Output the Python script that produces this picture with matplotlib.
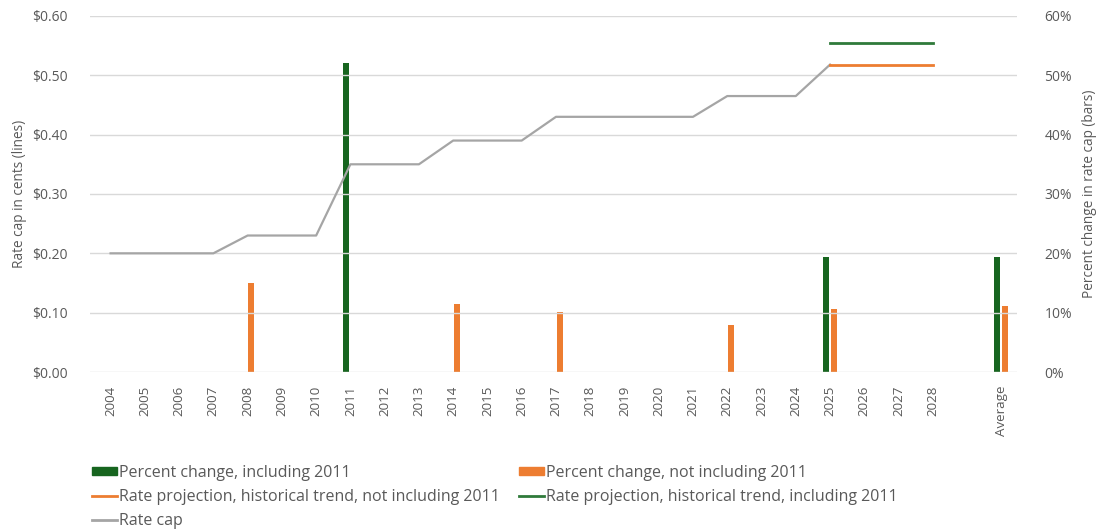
import numpy as np
import matplotlib
matplotlib.use("Agg")
import matplotlib.pyplot as plt
from matplotlib.patches import Patch
from matplotlib.lines import Line2D

plt.rcParams['font.family'] = ['Open Sans', 'DejaVu Sans']

# categories: 2004-2028, a blank slot, then the average
categories = [str(y) for y in range(2004, 2029)] + ['', 'Average']

# rate cap in dollars, 2004-2025
rate_cap = [0.20, 0.20, 0.20, 0.20, 0.23, 0.23, 0.23, 0.35, 0.35, 0.35,
            0.39, 0.39, 0.39, 0.43, 0.43, 0.43, 0.43, 0.43, 0.465, 0.465,
            0.465, 0.518]

# projections 2025-2028
proj_years = ['2025', '2026', '2027', '2028']
proj_incl_2011 = [0.555, 0.555, 0.555, 0.555]
proj_excl_2011 = [0.518, 0.518, 0.518, 0.518]

# percent change bars
pct_incl_2011 = {'2011': 52.0, '2025': 19.4, 'Average': 19.4}
pct_excl_2011 = {'2008': 15.0, '2014': 11.5, '2017': 10.1, '2022': 7.9,
                 '2025': 10.6, 'Average': 11.1}

GREEN = '#17651f'
GREEN_LINE = '#2f7a3a'
ORANGE = '#ed7d31'
GRAY = '#a5a5a5'
TXT = '#595959'

x = np.arange(len(categories))
idx = {c: i for i, c in enumerate(categories)}

fig = plt.figure(figsize=(10.98, 5.31), dpi=100)
ax = fig.add_axes([0.082, 0.2994, 0.844, 0.6706])
ax2 = ax.twinx()

# bars on the right axis
w = 0.17
gx = [idx[k] - 0.12 for k in pct_incl_2011]
ox = [idx[k] + 0.11 for k in pct_excl_2011]
ax2.bar(gx, list(pct_incl_2011.values()), width=w, color=GREEN, zorder=2)
ax2.bar(ox, list(pct_excl_2011.values()), width=w, color=ORANGE, zorder=2)
ax2.set_ylim(0, 60)
ax2.set_yticks(np.arange(0, 61, 10))
ax2.set_yticklabels([f'{v}%' for v in range(0, 61, 10)])

# lines on the left axis, drawn above the bars
ax.set_zorder(ax2.get_zorder() + 1)
ax.patch.set_visible(False)
ax.plot(x[:len(rate_cap)], rate_cap, color=GRAY, lw=1.6, zorder=3)
px = [idx[k] for k in proj_years]
ax.plot(px, proj_incl_2011, color=GREEN_LINE, lw=2.0, zorder=3)
ax.plot(px, proj_excl_2011, color=ORANGE, lw=2.0, zorder=3)
ax.set_ylim(0, 0.6)
ax.set_yticks(np.arange(0, 0.61, 0.1))
ax.set_yticklabels([f'${v:.2f}' for v in np.arange(0, 0.61, 0.1)])
ax.grid(axis='y', color='#d9d9d9', lw=1.0)
ax.set_axisbelow(True)

ax.set_xlim(-0.6, 26.45)
ax.set_xticks(x)
ax.set_xticklabels(categories, rotation=90)

for a in (ax, ax2):
    for s in a.spines.values():
        s.set_visible(False)
    a.tick_params(length=0, colors=TXT, labelsize=10)
ax.tick_params(axis='y', pad=16)
ax2.tick_params(axis='y', pad=20)
ax.tick_params(axis='x', pad=10, labelsize=9.6)

ax.set_ylabel('Rate cap in cents (lines)', color=TXT, fontsize=9.8, labelpad=4)
ax2.set_ylabel('Percent change in rate cap (bars)', color=TXT, fontsize=9.8, labelpad=7)

handles = [
    Patch(color=GREEN, label='Percent change, including 2011'),
    Line2D([], [], color=ORANGE, lw=2, label='Rate projection, historical trend, not including 2011'),
    Line2D([], [], color=GRAY, lw=2, label='Rate cap'),
    Patch(color=ORANGE, label='Percent change, not including 2011'),
    Line2D([], [], color=GREEN_LINE, lw=2, label='Rate projection, historical trend, including 2011'),
]
leg = fig.legend(handles=handles, ncol=2, loc='upper left', bbox_to_anchor=(0.0838, 0.125),
                 frameon=False, fontsize=11.5, handlelength=1.55, handleheight=0.45,
                 handletextpad=0.15, columnspacing=1.2, labelspacing=0.5,
                 borderaxespad=0, borderpad=0)
for t in leg.get_texts():
    t.set_color(TXT)

fig.savefig('out.png', dpi=100)
